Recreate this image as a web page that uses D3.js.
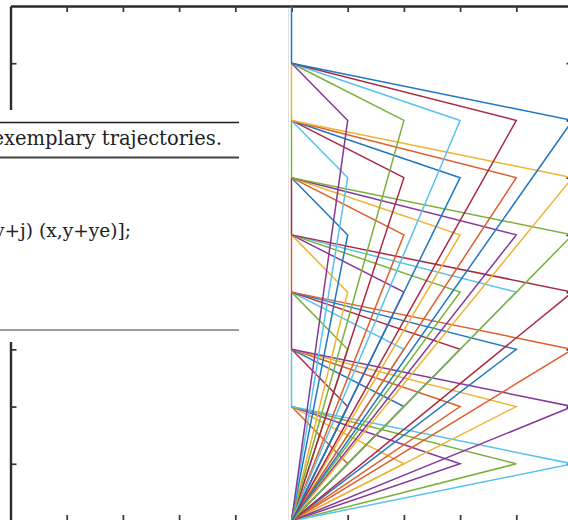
<!DOCTYPE html>
<html>
<head>
<meta charset="utf-8">
<script src="https://cdn.jsdelivr.net/npm/d3@7"></script>
<style>
  body { margin: 0; background: #fff; }
  svg { display: block; }
</style>
</head>
<body>
<script>

// default MATLAB line colour order (a touch lighter, as in the scan)
var colors = ['#1f78c0', '#dd5f2c', '#efb332', '#86399a', '#7cb03a', '#58c2ef', '#aa2a44'];

var xTicks = [-4, -3, -2, -1, 0, 1, 2, 3, 4];
var yTicks = [1, 2, 3, 4, 5, 6, 7, 8];

// each trajectory: (0,0) -> (xe, j) -> (0, j + 1)
var peakXs = [1, 2, 3, 4, 5];
var peakYs = [1, 2, 3, 4, 5, 6, 7];

// pieces left visible on the x = 0 line, with their colour index
var stepStarts = [8, 7, 6, 5, 4, 3, 2];
var stepColors = [0, 2, 4, 6, 1, 3, 5];

var captionText = 'exemplary trajectories.';
var codeText = 'y+j) (x,y+ye)];';

var width = 568, height = 520;

var svg = d3.select('body').append('svg')
  .attr('width', width)
  .attr('height', height);

var x = d3.scaleLinear().domain([-5, 5]).range([10.5, 572.5]);
var y = d3.scaleLinear().domain([0, 9]).range([521, 6]);

// box with inward ticks on all four sides
function styleAxis(g) {
  g.selectAll('.domain').attr('stroke', '#2b2b2b').attr('stroke-width', 2.4);
  g.selectAll('.tick line').attr('stroke', '#333').attr('stroke-width', 1.7);
  g.selectAll('.tick text').remove();
}

svg.append('g')
  .attr('transform', 'translate(0,' + y(9) + ')')
  .call(d3.axisTop(x).tickValues(xTicks).tickSizeInner(-6).tickSizeOuter(0).tickFormat(''))
  .call(styleAxis);

svg.append('g')
  .attr('transform', 'translate(0,' + y(0) + ')')
  .call(d3.axisBottom(x).tickValues(xTicks).tickSizeInner(-6).tickSizeOuter(0).tickFormat(''))
  .call(styleAxis);

svg.append('g')
  .attr('transform', 'translate(' + x(-5) + ',0)')
  .call(d3.axisLeft(y).tickValues(yTicks).tickSizeInner(-6).tickSizeOuter(0).tickFormat(''))
  .call(styleAxis);

svg.append('g')
  .attr('transform', 'translate(' + x(5) + ',0)')
  .call(d3.axisRight(y).tickValues(yTicks).tickSizeInner(-6).tickSizeOuter(0).tickFormat(''))
  .call(styleAxis);

// build trajectories in drawing order, colour cycles with the count
var trajectories = [];
var k = 1;
peakYs.forEach(function(j) {
  peakXs.forEach(function(xe) {
    trajectories.push({ pts: [[0, 0], [xe, j], [0, j + 1]], c: colors[k % colors.length] });
    k++;
  });
});

var line = d3.line()
  .x(function(d) { return x(d[0]); })
  .y(function(d) { return y(d[1]); });

var plot = svg.append('g').attr('fill', 'none').attr('stroke-width', 1.5).attr('stroke-linejoin', 'miter');

plot.selectAll('path.step')
  .data(stepStarts)
  .enter()
  .append('path')
  .attr('class', 'step')
  .attr('d', function(s) { return line([[0, s], [0, s + 1]]); })
  .attr('stroke', function(s, i) { return colors[stepColors[i]]; });

plot.selectAll('path.traj')
  .data(trajectories)
  .enter()
  .append('path')
  .attr('class', 'traj')
  .attr('d', function(d) { return line(d.pts); })
  .attr('stroke', function(d) { return d.c; });

// white text box laid over the left half
var box = svg.append('g');
box.append('rect')
  .attr('x', 0).attr('y', 110)
  .attr('width', 287).attr('height', 232)
  .attr('fill', '#fff');

box.append('line')
  .attr('x1', 0).attr('x2', 239).attr('y1', 122.5).attr('y2', 122.5)
  .attr('stroke', '#1a1a1a').attr('stroke-width', 1.6);
box.append('line')
  .attr('x1', 0).attr('x2', 239).attr('y1', 157.5).attr('y2', 157.5)
  .attr('stroke', '#444').attr('stroke-width', 2);
box.append('line')
  .attr('x1', 0).attr('x2', 239).attr('y1', 330).attr('y2', 330)
  .attr('stroke', '#9a9a9a').attr('stroke-width', 2);

box.append('text')
  .attr('x', 222).attr('y', 145)
  .attr('text-anchor', 'end')
  .attr('font-family', 'DejaVu Serif')
  .attr('font-size', 19.5)
  .attr('fill', '#222')
  .text(captionText);

box.append('text')
  .attr('x', 131).attr('y', 237)
  .attr('text-anchor', 'end')
  .attr('font-family', 'DejaVu Serif')
  .attr('font-size', 18.6)
  .attr('fill', '#222')
  .text(codeText);

// faint page edge
svg.append('line')
  .attr('x1', 288.5).attr('x2', 288.5).attr('y1', 8).attr('y2', 520)
  .attr('stroke', '#e2e2e2').attr('stroke-width', 1);

</script>
</body>
</html>
